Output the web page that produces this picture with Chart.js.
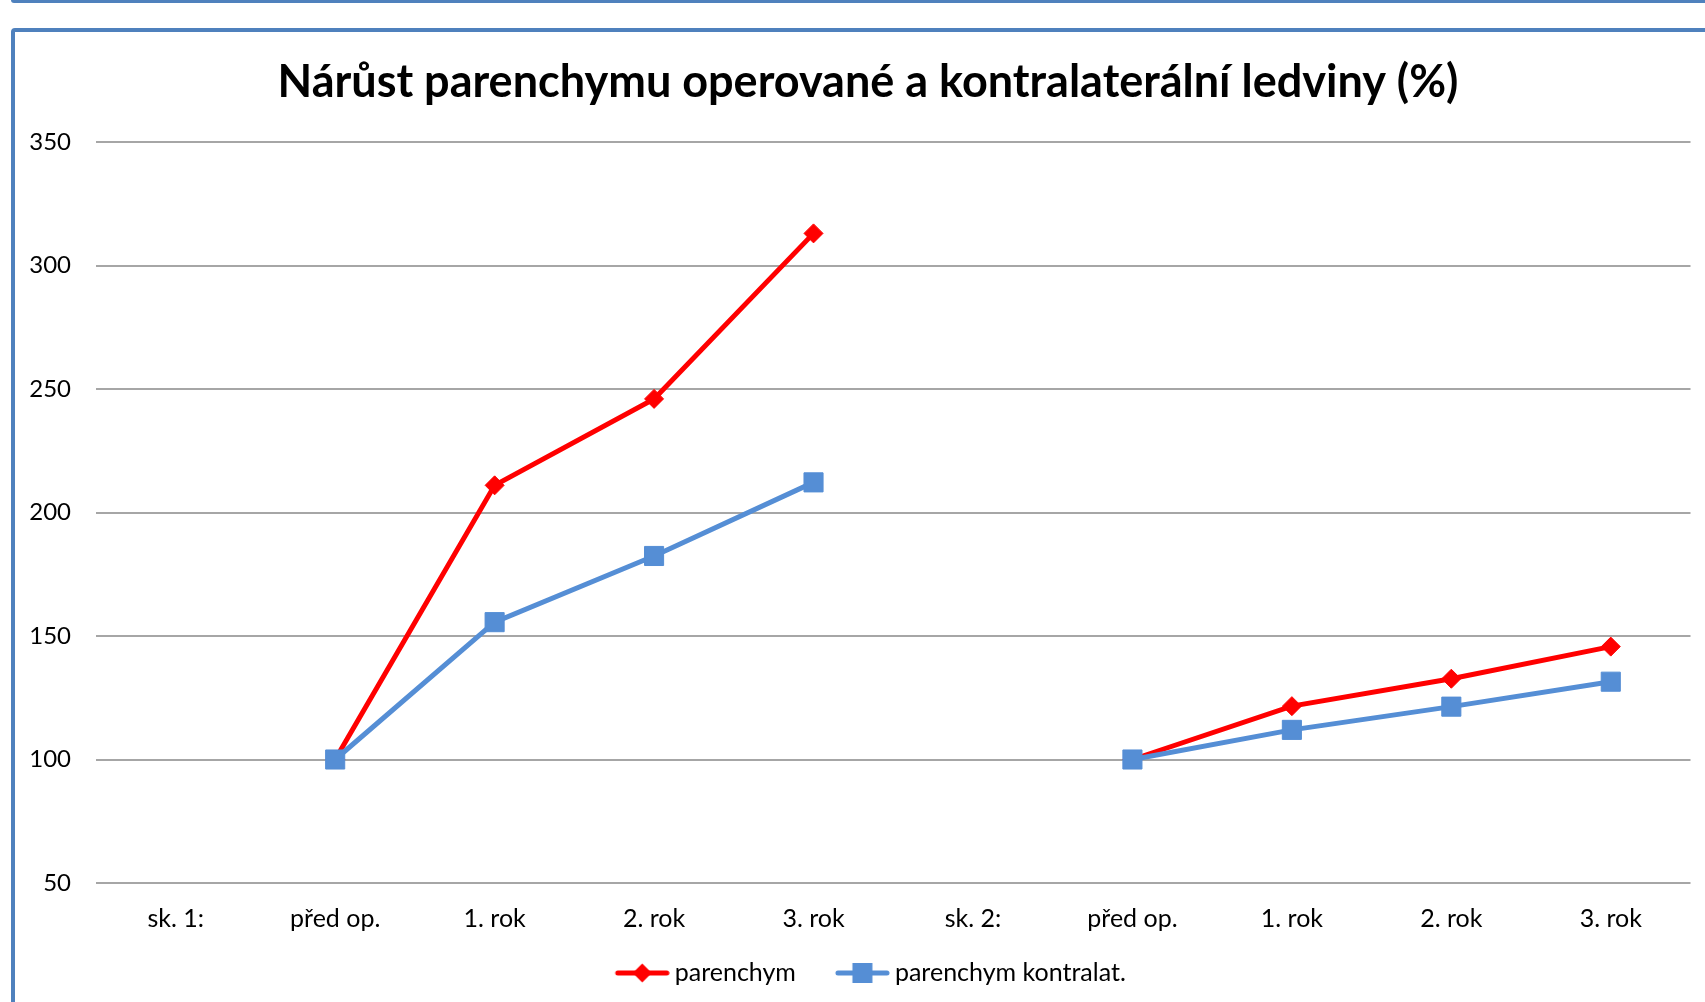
<!DOCTYPE html>
<html>
<head>
<meta charset="utf-8">
<script src="https://cdn.jsdelivr.net/npm/chart.js@4/dist/chart.umd.min.js"></script>
<style>
  html, body { margin: 0; padding: 0; background: #fff; overflow: hidden; width: 1705px; height: 1002px; }
  #topline { position: absolute; left: 11px; top: 0; width: 1694px; height: 3px; background: #4F81BD; border-radius: 0 0 0 3px; }
  #frame { position: absolute; left: 11px; top: 28px; width: 1720px; height: 1020px; border: 4px solid #4F81BD; border-radius: 4px; box-sizing: border-box; }
  #wrap { position: absolute; left: 0; top: 0; width: 1705px; height: 1002px; }
</style>
</head>
<body>
<div id="topline"></div>
<div id="frame"></div>
<div id="wrap"><canvas id="c" width="1705" height="1002"></canvas></div>
<script>
const titleText = 'Nárůst parenchymu operované a kontralaterální ledviny (%)';
const categories = ['sk. 1:', 'před op.', '1. rok', '2. rok', '3. rok', 'sk. 2:', 'před op.', '1. rok', '2. rok', '3. rok'];
const seriesNames = ['parenchym', 'parenchym kontralat.'];
const parenchym = [null, 100, 211, 246, 313, null, 100, 121.6, 132.7, 145.7];
const kontralat = [null, 100, 155.6, 182.4, 212.2, null, 100, 112, 121.4, 131.5];
const yTicks = [50, 100, 150, 200, 250, 300, 350];

const RED = '#FF0000';
const BLUE = '#558ED5';
const FONT = 'Lato';

function legendSymbol(color, shape) {
  const W = 79, H = 24;
  const cv = document.createElement('canvas');
  cv.width = W; cv.height = H;
  const g = cv.getContext('2d');
  const x0 = 24, x1 = W;
  const cx = (x0 + x1) / 2, cy = H / 2;
  g.strokeStyle = color; g.lineWidth = 5; g.lineCap = 'round';
  g.beginPath(); g.moveTo(x0 + 3, cy); g.lineTo(x1 - 3, cy); g.stroke();
  g.fillStyle = color;
  g.beginPath();
  if (shape === 'diamond') {
    g.moveTo(cx - 9.5, cy); g.lineTo(cx, cy - 9.5); g.lineTo(cx + 9.5, cy); g.lineTo(cx, cy + 9.5);
  } else {
    g.rect(cx - 10, cy - 10, 20, 20);
  }
  g.closePath(); g.fill();
  return cv;
}
const symRed = legendSymbol(RED, 'diamond');
const symBlue = legendSymbol(BLUE, 'square');

// shift title and legend blocks so they centre like the original
const shiftBlocks = {
  id: 'shiftBlocks',
  afterLayout(chart) {
    if (chart.titleBlock) { chart.titleBlock.left += 21; chart.titleBlock.right += 21; }
    if (chart.legend) { chart.legend.left += 15; chart.legend.right += 15; }
  }
};

new Chart(document.getElementById('c'), {
  type: 'line',
  plugins: [shiftBlocks],
  data: {
    labels: categories,
    datasets: [
      {
        label: seriesNames[0], data: parenchym, order: 1,
        borderColor: RED, backgroundColor: RED, borderWidth: 5,
        pointStyle: 'rectRot', pointRadius: 9.5, pointBorderWidth: 1,
        pointBackgroundColor: RED, pointBorderColor: RED, tension: 0, spanGaps: false
      },
      {
        label: seriesNames[1], data: kontralat, order: 0,
        borderColor: BLUE, backgroundColor: BLUE, borderWidth: 5,
        pointStyle: 'rect', pointRadius: 13.5, pointBorderWidth: 1,
        pointBackgroundColor: BLUE, pointBorderColor: BLUE, tension: 0, spanGaps: false
      }
    ]
  },
  options: {
    responsive: false,
    animation: false,
    layout: { padding: { left: 0, right: 11, top: 0, bottom: 6.5 } },
    plugins: {
      tooltip: { enabled: false },
      title: {
        display: true, text: titleText, color: '#000',
        font: { family: FONT, size: 45, weight: 'bold', lineHeight: 1.2 },
        padding: { top: 55, bottom: 33 }
      },
      legend: {
        display: true, position: 'bottom',
        labels: {
          usePointStyle: true, pointStyleWidth: 64, boxHeight: 25, padding: 22.5,
          color: '#000', font: { family: FONT, size: 25 },
          generateLabels: () => [
            { text: seriesNames[0], pointStyle: symRed, fillStyle: RED, strokeStyle: RED, lineWidth: 0, datasetIndex: 0, hidden: false, fontColor: '#000' },
            { text: seriesNames[1], pointStyle: symBlue, fillStyle: BLUE, strokeStyle: BLUE, lineWidth: 0, datasetIndex: 1, hidden: false, fontColor: '#000' }
          ]
        }
      }
    },
    scales: {
      x: {
        offset: true,
        grid: { display: false, drawTicks: false, offset: true },
        border: { display: false },
        ticks: { color: '#000', font: { family: FONT, size: 25 }, padding: 21, maxRotation: 0, autoSkip: false },
        afterFit: (s) => { s.height = 55; }
      },
      y: {
        min: 50, max: 350,
        afterBuildTicks: (s) => { s.ticks = yTicks.map(v => ({ value: v })); },
        grid: { color: '#A6A6A6', lineWidth: 2, drawTicks: false },
        border: { display: false },
        ticks: { color: '#000', font: { family: FONT, size: 24 }, padding: 25 },
        afterFit: (s) => { s.width = 96; }
      }
    }
  }
});
</script>
</body>
</html>
